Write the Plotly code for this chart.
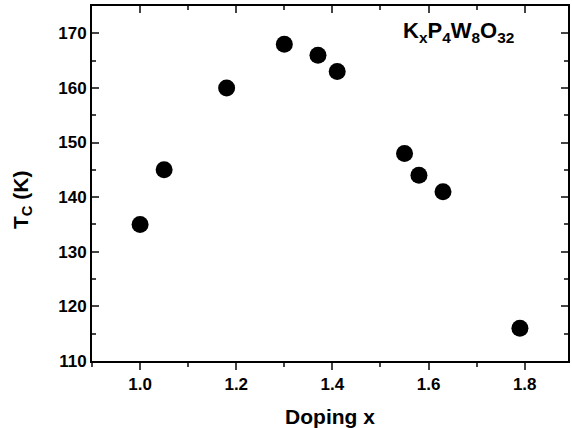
import plotly.graph_objects as go

doping = [1.00, 1.05, 1.18, 1.30, 1.37, 1.41, 1.55, 1.58, 1.63, 1.79]
tc = [135, 145, 160, 168, 166, 163, 148, 144, 141, 116]

x_range = [0.9, 1.89]
y_range = [110, 175]
x_ticks = [1.0, 1.2, 1.4, 1.6, 1.8]
x_ticklabels = ["1.0", "1.2", "1.4", "1.6", "1.8"]
y_ticks = [110, 120, 130, 140, 150, 160, 170]

font = "Liberation Sans, Arial, sans-serif"

fig = go.Figure()
fig.add_trace(go.Scatter(x=doping, y=tc, mode="markers",
                         marker=dict(size=17, color="black"), showlegend=False))
fig.add_trace(go.Scatter(x=[doping[0]], y=[tc[0]], xaxis="x2", mode="markers",
                         marker=dict(size=1, color="rgba(0,0,0,0)"), showlegend=False,
                         hoverinfo="skip"))

fig.update_layout(
    width=572, height=428,
    margin=dict(l=92, r=2, t=6, b=67),
    plot_bgcolor="white", paper_bgcolor="white",
    font=dict(family=font, color="black"),
    xaxis=dict(range=x_range, tickvals=x_ticks, ticktext=x_ticklabels,
               ticks="outside", ticklen=7, tickwidth=2, showline=True, linewidth=2,
               linecolor="black", showgrid=False, zeroline=False,
               tickfont=dict(size=17, family=font, weight="bold"),
               minor=dict(dtick=0.1, tick0=0.9, ticks="outside", ticklen=4, tickwidth=1.5),
               title=dict(text="<b>Doping x</b>", font=dict(size=21), standoff=16)),
    xaxis2=dict(range=x_range, overlaying="x", side="top", tickvals=x_ticks,
                showticklabels=False, ticks="inside", ticklen=7, tickwidth=2,
                showline=True, linewidth=2, linecolor="black", showgrid=False,
                zeroline=False,
                minor=dict(dtick=0.1, tick0=0.9, ticks="inside", ticklen=4, tickwidth=1.5)),
    yaxis=dict(range=y_range, tickvals=y_ticks, ticks="inside", ticklen=7, tickwidth=2,
               showline=True, linewidth=2, linecolor="black", mirror="ticks",
               showgrid=False, zeroline=False,
               tickfont=dict(size=17, family=font, weight="bold"),
               minor=dict(dtick=5, tick0=110, ticks="inside", ticklen=4, tickwidth=1.5)),
    annotations=[
        dict(text="<b>K<sub>x</sub>P<sub>4</sub>W<sub>8</sub>O<sub>32</sub></b>",
             x=1.543, y=170.3, xref="x", yref="y", xanchor="left", yanchor="middle",
             showarrow=False, font=dict(size=22, family=font)),
        dict(text="<b>T<sub>C</sub> (K)</b>", textangle=-90,
             x=0, xref="paper", xshift=-70, y=0.4535, yref="paper",
             xanchor="center", yanchor="middle", showarrow=False,
             font=dict(size=21, family=font)),
    ],
)

fig.write_html("out.html")
